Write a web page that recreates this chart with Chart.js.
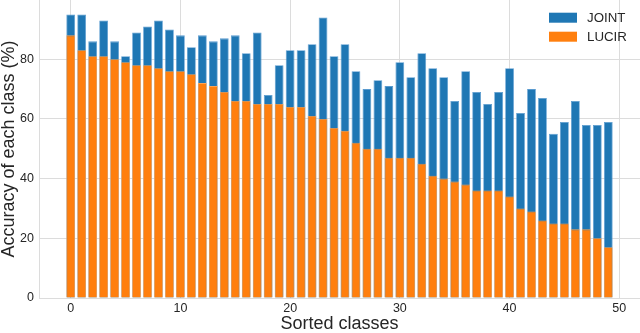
<!DOCTYPE html>
<html>
<head>
<meta charset="utf-8">
<script src="https://cdn.jsdelivr.net/npm/chart.js@4.4.1/dist/chart.umd.min.js"></script>
<style>
  html, body { margin: 0; padding: 0; background: #ffffff; }
  #wrap { width: 640px; height: 333px; }
</style>
</head>
<body>
<div id="wrap"><canvas id="accChart" width="640" height="333"></canvas></div>
<script>
// class index (sorted by LUCIR accuracy)
const classes = [0, 1, 2, 3, 4, 5, 6, 7, 8, 9, 10, 11, 12, 13, 14, 15, 16, 17, 18, 19,
  20, 21, 22, 23, 24, 25, 26, 27, 28, 29, 30, 31, 32, 33, 34, 35, 36, 37, 38, 39,
  40, 41, 42, 43, 44, 45, 46, 47, 48, 49];

// per-class accuracy (%)
const joint = [95, 95, 86, 93, 86, 81, 89, 91, 93, 90, 88, 84, 88, 86, 87, 88, 82,
  89, 68, 78, 83, 83, 85, 94, 81, 85, 76, 70, 73, 71, 79, 74, 82, 77, 74,
  66, 76, 69, 65, 69, 77, 62, 70, 67, 55, 59, 66, 58, 58, 59];
const lucir = [88, 83, 81, 81, 80, 79, 78, 78, 77, 76, 76, 75, 72, 71, 69, 66, 66,
  65, 65, 65, 64, 64, 61, 60, 57, 56, 52, 50, 50, 47, 47, 47, 45,
  41, 40, 39, 38, 36, 36, 36, 34, 30, 29, 26, 25, 25, 23, 23, 20, 17];

const xTicks = [0, 10, 20, 30, 40, 50];
const yTicks = [0, 20, 40, 60, 80];

const textColor = '#262626';
const gridColor = '#dcdcdc';

Chart.defaults.font.family = '"Liberation Sans", Arial, sans-serif';
Chart.defaults.color = textColor;

// legend drawn in the upper right corner of the plot
const cornerLegend = {
    id: 'cornerLegend',
    afterDatasetsDraw(chart) {
        const { ctx, chartArea } = chart;
        ctx.save();
        ctx.font = '13.3px "Liberation Sans", Arial, sans-serif';
        ctx.textBaseline = 'middle';
        ctx.textAlign = 'left';
        chart.data.datasets.forEach((ds, i) => {
            const y = chartArea.top + 12.7 + i * 19;
            ctx.fillStyle = ds.backgroundColor;
            ctx.fillRect(chartArea.right - 91, y, 28, 10);
            ctx.fillStyle = textColor;
            ctx.fillText(ds.label, chartArea.right - 53, y + 5.3);
        });
        ctx.restore();
    }
};

const ctx = document.getElementById('accChart').getContext('2d');
const accChart = new Chart(ctx, {
    type: 'bar',
    data: {
        datasets: [{
            label: 'JOINT',
            data: joint.map((v, i) => ({ x: classes[i], y: v })),
            backgroundColor: '#1f77b4',
            borderColor: '#5a9bd0',
            borderWidth: 0.8,
            order: 1
        }, {
            label: 'LUCIR',
            data: lucir.map((v, i) => ({ x: classes[i], y: v })),
            backgroundColor: '#ff7f0e',
            borderColor: '#ffa352',
            borderWidth: 0.8,
            order: 0
        }]
    },
    options: {
        responsive: false,
        animation: false,
        devicePixelRatio: 1,
        layout: { padding: 0 },
        datasets: {
            bar: {
                grouped: false,
                categoryPercentage: 1.0,
                barPercentage: 0.8
            }
        },
        plugins: {
            legend: { display: false },
            tooltip: { enabled: false }
        },
        scales: {
            x: {
                type: 'linear',
                min: -2.89,
                max: 51.89,
                offset: false,
                grid: { color: gridColor, drawTicks: false, offset: false },
                border: { display: true, color: gridColor },
                ticks: { font: { size: 12.5 }, padding: 3, color: textColor },
                title: {
                    display: true,
                    text: 'Sorted classes',
                    font: { size: 18, lineHeight: 1 },
                    padding: 0,
                    color: textColor
                },
                afterBuildTicks: scale => {
                    scale.ticks = xTicks.map(v => ({ value: v }));
                },
                afterFit: scale => {
                    scale.height = 35;
                    scale.paddingLeft = 0;
                    scale.paddingRight = 0;
                }
            },
            y: {
                min: 0,
                max: 99.85,
                grid: { color: gridColor, drawTicks: false },
                border: { display: true, color: gridColor },
                ticks: { font: { size: 12.5 }, padding: 5, color: textColor },
                title: {
                    display: true,
                    text: 'Accuracy of each class (%)',
                    font: { size: 18, lineHeight: 1 },
                    padding: 0,
                    color: textColor
                },
                afterBuildTicks: scale => {
                    scale.ticks = yTicks.map(v => ({ value: v }));
                },
                afterFit: scale => {
                    scale.width = 39;
                    scale.paddingTop = 0;
                    scale.paddingBottom = 0;
                }
            }
        }
    },
    plugins: [cornerLegend]
});
</script>
</body>
</html>
